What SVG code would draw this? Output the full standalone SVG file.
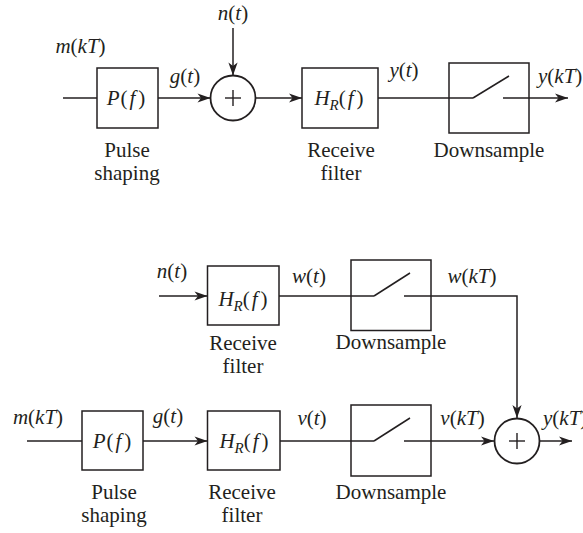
<svg xmlns="http://www.w3.org/2000/svg" width="583" height="533" viewBox="0 0 583 533">
<style>
text{font-family:"Liberation Serif","Times New Roman",serif;font-size:21px;fill:#231f20}
.it{font-style:italic}
.sub{font-style:italic;font-size:15px}
.box{fill:#fff;stroke:#231f20;stroke-width:1.5}
.ln{fill:none;stroke:#231f20;stroke-width:1.5}
.arr{fill:none;stroke:#231f20;stroke-width:1.5;marker-end:url(#ah)}
.sum{fill:#fff;stroke:#231f20;stroke-width:1.8}
.plus{stroke:#231f20;stroke-width:1.4}
</style>
<defs>
<marker id="ah" markerUnits="userSpaceOnUse" markerWidth="14" markerHeight="12" viewBox="-13 -6 14 12" refX="0" refY="0" orient="auto" overflow="visible">
<path d="M0,0 L-13,-4.6 L-9.5,0 L-13,4.6 Z" fill="#231f20"/>
</marker>
</defs>
<rect width="583" height="533" fill="#fff"/>

<g id="connectors">
<!-- top diagram -->
<line class="ln" x1="63" y1="98" x2="97" y2="98"/>
<line class="arr" x1="158" y1="98" x2="210.5" y2="98"/>
<line class="arr" x1="233" y1="28" x2="233" y2="75.5"/>
<line class="arr" x1="255.5" y1="98" x2="302" y2="98"/>
<line class="ln" x1="378" y1="98" x2="473" y2="98"/>
<line class="ln" x1="473" y1="98" x2="509" y2="76"/>
<polyline class="arr" points="503,98 568,98"/>
<!-- bottom diagram -->
<line class="arr" x1="159" y1="296" x2="207.5" y2="296"/>
<line class="ln" x1="279" y1="296" x2="374" y2="296"/>
<line class="ln" x1="374" y1="296" x2="410" y2="273"/>
<polyline class="arr" points="404,296 517,296 517,418"/>
<line class="ln" x1="27" y1="441" x2="82" y2="441"/>
<line class="arr" x1="143" y1="441" x2="207.5" y2="441"/>
<line class="ln" x1="279" y1="441" x2="374" y2="441"/>
<line class="ln" x1="374" y1="441" x2="410" y2="418"/>
<line class="arr" x1="404" y1="441" x2="494" y2="441"/>
<line class="arr" x1="539.5" y1="441" x2="572" y2="441"/>
</g>

<!-- top diagram nodes -->
<g id="pulse1">
<rect class="box" x="97" y="68" width="61" height="60"/>
<text x="126" y="105" text-anchor="middle"><tspan class="it">P</tspan><tspan dx="1">(</tspan><tspan class="it" dx="2">f</tspan><tspan dx="3">)</tspan></text>
<text x="127" y="157" text-anchor="middle">Pulse</text>
<text x="127" y="180" text-anchor="middle">shaping</text>
</g>
<g id="sum1">
<circle class="sum" cx="233" cy="98" r="22.5"/>
<line class="plus" x1="225" y1="98" x2="241" y2="98"/>
<line class="plus" x1="233" y1="90" x2="233" y2="106"/>
</g>
<g id="rx1">
<rect class="box" x="302" y="68" width="76" height="60"/>
<text x="339" y="105" text-anchor="middle"><tspan class="it">H</tspan><tspan class="sub" dy="5">R</tspan><tspan dy="-5">(</tspan><tspan class="it" dx="2">f</tspan><tspan dx="3">)</tspan></text>
<text x="341" y="157" text-anchor="middle">Receive</text>
<text x="341" y="180" text-anchor="middle">filter</text>
</g>
<g id="ds1">
<rect class="box" x="449" y="63" width="80" height="70" style="fill:none"/>
<text x="489" y="157" text-anchor="middle">Downsample</text>
</g>
<g id="labels1">
<text class="it" x="80.5" y="53" text-anchor="middle">m<tspan font-style="normal">(</tspan>kT<tspan font-style="normal">)</tspan></text>
<text class="it" x="233" y="19.5" text-anchor="middle">n<tspan font-style="normal">(</tspan>t<tspan font-style="normal">)</tspan></text>
<text class="it" x="185" y="83" text-anchor="middle">g<tspan font-style="normal">(</tspan>t<tspan font-style="normal">)</tspan></text>
<text class="it" x="404" y="77" text-anchor="middle">y<tspan font-style="normal">(</tspan>t<tspan font-style="normal">)</tspan></text>
<text class="it" x="538" y="83">y<tspan font-style="normal">(</tspan>kT<tspan font-style="normal">)</tspan></text>
</g>

<!-- bottom diagram nodes -->
<g id="rxn">
<rect class="box" x="207.5" y="266" width="71.5" height="59"/>
<text x="243" y="306" text-anchor="middle"><tspan class="it">H</tspan><tspan class="sub" dy="5">R</tspan><tspan dy="-5">(</tspan><tspan class="it" dx="2">f</tspan><tspan dx="3">)</tspan></text>
<text x="243" y="350" text-anchor="middle">Receive</text>
<text x="243" y="373" text-anchor="middle">filter</text>
</g>
<g id="dsw">
<rect class="box" x="351" y="260" width="80" height="70.5" style="fill:none"/>
<text x="391" y="349" text-anchor="middle">Downsample</text>
</g>
<g id="pulse2">
<rect class="box" x="82" y="411" width="61" height="59"/>
<text x="112" y="448" text-anchor="middle"><tspan class="it">P</tspan><tspan dx="1">(</tspan><tspan class="it" dx="2">f</tspan><tspan dx="3">)</tspan></text>
<text x="114" y="498.5" text-anchor="middle">Pulse</text>
<text x="114" y="521.5" text-anchor="middle">shaping</text>
</g>
<g id="rxs">
<rect class="box" x="207.5" y="411" width="72.5" height="59"/>
<text x="244" y="448" text-anchor="middle"><tspan class="it">H</tspan><tspan class="sub" dy="5">R</tspan><tspan dy="-5">(</tspan><tspan class="it" dx="2">f</tspan><tspan dx="3">)</tspan></text>
<text x="242" y="498.5" text-anchor="middle">Receive</text>
<text x="242" y="521.5" text-anchor="middle">filter</text>
</g>
<g id="dsv">
<rect class="box" x="351" y="405" width="80" height="71" style="fill:none"/>
<text x="391" y="499" text-anchor="middle">Downsample</text>
</g>
<g id="sum2">
<circle class="sum" cx="517" cy="441" r="22.5"/>
<line class="plus" x1="509" y1="441" x2="525" y2="441"/>
<line class="plus" x1="517" y1="433" x2="517" y2="449"/>
</g>
<g id="labels2">
<text class="it" x="172" y="278" text-anchor="middle">n<tspan font-style="normal">(</tspan>t<tspan font-style="normal">)</tspan></text>
<text class="it" x="309" y="283" text-anchor="middle">w<tspan font-style="normal">(</tspan>t<tspan font-style="normal">)</tspan></text>
<text class="it" x="472" y="283" text-anchor="middle">w<tspan font-style="normal">(</tspan>kT<tspan font-style="normal">)</tspan></text>
<text class="it" x="38" y="424" text-anchor="middle">m<tspan font-style="normal">(</tspan>kT<tspan font-style="normal">)</tspan></text>
<text class="it" x="168" y="423" text-anchor="middle">g<tspan font-style="normal">(</tspan>t<tspan font-style="normal">)</tspan></text>
<text class="it" x="312" y="425" text-anchor="middle">v<tspan font-style="normal">(</tspan>t<tspan font-style="normal">)</tspan></text>
<text class="it" x="462.5" y="425" text-anchor="middle">v<tspan font-style="normal">(</tspan>kT<tspan font-style="normal">)</tspan></text>
<text class="it" x="543" y="425">y<tspan font-style="normal">(</tspan>kT<tspan font-style="normal">)</tspan></text>
</g>
</svg>
